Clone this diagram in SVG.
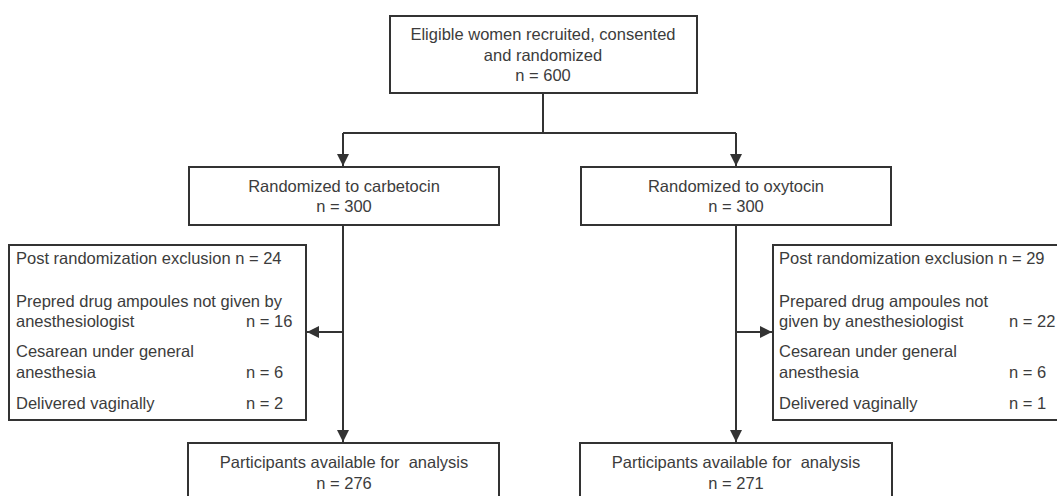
<svg xmlns="http://www.w3.org/2000/svg" width="1057" height="496" viewBox="0 0 1057 496">
<style>
.box{fill:#fff;stroke:#333;stroke-width:2}
.t{font-family:"Liberation Sans",Arial,sans-serif;font-size:16.5px;fill:#3c3c3c}
.c{text-anchor:middle}
.ln{fill:none;stroke:#333;stroke-width:2}
</style>
<defs>
<marker id="ah" markerUnits="userSpaceOnUse" markerWidth="12" markerHeight="12" refX="12" refY="6" orient="auto">
<path d="M0,0 L12,6 L0,12 z" fill="#333"/>
</marker>
</defs>
<rect width="1057" height="496" fill="#fff"/>
<g id="connectors">
<path class="ln" d="M543,93 V133"/>
<path class="ln" d="M343,133 H736"/>
<path class="ln" d="M343,133 V166" marker-end="url(#ah)"/>
<path class="ln" d="M736,133 V166" marker-end="url(#ah)"/>
<path class="ln" d="M343,225 V442" marker-end="url(#ah)"/>
<path class="ln" d="M343,332 H307" marker-end="url(#ah)"/>
<path class="ln" d="M736,225 V442" marker-end="url(#ah)"/>
<path class="ln" d="M736,332 H772" marker-end="url(#ah)"/>
</g>
<g id="eligible">
<rect class="box" x="390" y="16" width="307" height="77"/>
<text class="t c" x="543" y="40">Eligible women recruited, consented</text>
<text class="t c" x="543" y="61">and randomized</text>
<text class="t c" x="543" y="81">n = 600</text>
</g>
<g id="carbetocin">
<rect class="box" x="189" y="167" width="310" height="58"/>
<text class="t c" x="344" y="192">Randomized to carbetocin</text>
<text class="t c" x="344" y="212">n = 300</text>
</g>
<g id="oxytocin">
<rect class="box" x="581" y="167" width="310" height="58"/>
<text class="t c" x="736" y="192">Randomized to oxytocin</text>
<text class="t c" x="736" y="212">n = 300</text>
</g>
<g id="excl-left">
<rect class="box" x="9" y="245" width="297" height="175"/>
<text class="t" x="16" y="264">Post randomization exclusion n = 24</text>
<text class="t" x="16" y="307">Prepred drug ampoules not given by</text>
<text class="t" x="16" y="327">anesthesiologist</text>
<text class="t" x="246" y="327">n = 16</text>
<text class="t" x="16" y="357">Cesarean under general</text>
<text class="t" x="16" y="378">anesthesia</text>
<text class="t" x="246" y="378">n = 6</text>
<text class="t" x="16" y="409">Delivered vaginally</text>
<text class="t" x="246" y="409">n = 2</text>
</g>
<g id="excl-right">
<rect class="box" x="773" y="245" width="300" height="175"/>
<text class="t" x="779" y="264">Post randomization exclusion n = 29</text>
<text class="t" x="779" y="307">Prepared drug ampoules not</text>
<text class="t" x="779" y="327">given by anesthesiologist</text>
<text class="t" x="1009" y="327">n = 22</text>
<text class="t" x="779" y="357">Cesarean under general</text>
<text class="t" x="779" y="378">anesthesia</text>
<text class="t" x="1009" y="378">n = 6</text>
<text class="t" x="779" y="409">Delivered vaginally</text>
<text class="t" x="1009" y="409">n = 1</text>
</g>
<g id="analysis-left">
<rect class="box" x="188" y="443" width="311" height="70"/>
<text class="t c" x="344" y="468" xml:space="preserve">Participants available for  analysis</text>
<text class="t c" x="344" y="489">n = 276</text>
</g>
<g id="analysis-right">
<rect class="box" x="580" y="443" width="312" height="70"/>
<text class="t c" x="736" y="468" xml:space="preserve">Participants available for  analysis</text>
<text class="t c" x="736" y="489">n = 271</text>
</g>
</svg>
